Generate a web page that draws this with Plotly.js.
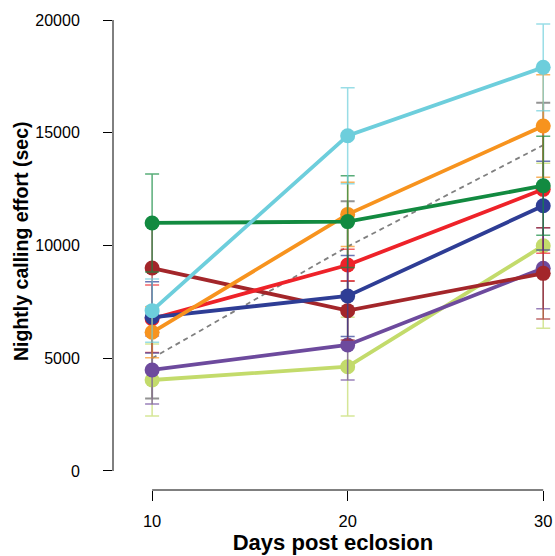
<!DOCTYPE html>
<html><head><meta charset="utf-8">
<script src="https://cdn.plot.ly/plotly-3.0.1.min.js"></script>
<style>html,body{margin:0;padding:0;background:#fff}#chart{width:555px;height:556px}</style>
</head><body><div id="chart"></div>
<script>
const days = [10, 20, 30];
const xTicks = [10, 20, 30];
const yTicks = [0, 5000, 10000, 15000, 20000];

const meanVals = [5000, 9950, 14450];
const meanErr = [1790, 2010, 1880];

const lightgreenVals = [4035, 4625, 9990];
const lightgreenErr = [1600, 2190, 3660];
const purpleVals = [4480, 5590, 8990];
const purpleErr = [1510, 1555, 1800];
const darkredVals = [9000, 7110, 8765];
const darkredErr = [1950, 1300, 2025];
const redVals = [6750, 9135, 12490];
const redErr = [1500, 700, 2835];
const blueVals = [6815, 7760, 11765];
const blueErr = [1580, 1800, 1970];
const orangeVals = [6150, 11380, 15300];
const orangeErr = [1130, 1420, 2275];
const greenVals = [11000, 11060, 12650];
const greenErr = [2170, 2035, 2200];
const cyanVals = [7110, 14870, 17900];
const cyanErr = [1400, 2130, 1920];

const series = [
  {v: lightgreenVals, e: lightgreenErr, c: '#C3DB6B', ec: 'rgba(195,219,107,0.7)'},
  {v: purpleVals, e: purpleErr, c: '#6D4A9D', ec: 'rgba(109,74,157,0.7)'},
  {v: darkredVals, e: darkredErr, c: '#A3262A', ec: 'rgba(163,38,42,0.7)'},
  {v: redVals, e: redErr, c: '#EE2229', ec: 'rgba(238,34,41,0.7)'},
  {v: blueVals, e: blueErr, c: '#2E3D95', ec: 'rgba(46,61,149,0.7)'},
  {v: orangeVals, e: orangeErr, c: '#F7931E', ec: 'rgba(247,147,30,0.7)'},
  {v: greenVals, e: greenErr, c: '#128A40', ec: 'rgba(18,138,64,0.7)'},
  {v: cyanVals, e: cyanErr, c: '#6DCEDC', ec: 'rgba(109,206,220,0.7)'}
];

const traces = [{
  x: days, y: meanVals, type: 'scatter', mode: 'lines',
  line: {color: '#808080', width: 1.8, dash: '5px,4px'},
  error_y: {type: 'data', array: meanErr, visible: true, color: 'rgba(128,128,128,0.85)', thickness: 2, width: 7},
  hoverinfo: 'skip', showlegend: false
}];
series.forEach(s => {
  traces.push({
    x: days, y: s.v, type: 'scatter', mode: 'lines+markers',
    line: {color: s.c, width: 3.8},
    marker: {color: s.c, size: 15},
    error_y: {type: 'data', array: s.e, visible: true, color: s.ec, thickness: 1.5, width: 7},
    showlegend: false
  });
});

const font = 'Liberation Sans, Arial, sans-serif';
const layout = {
  width: 555, height: 556,
  margin: {l: 113, r: 2, t: 12, b: 66},
  paper_bgcolor: '#fff', plot_bgcolor: '#fff',
  font: {family: font, color: '#000', size: 16},
  showlegend: false,
  xaxis: {
    range: [8, 30.5], tickvals: xTicks, ticktext: xTicks.map(String),
    showgrid: false, zeroline: false, showline: false,
    ticks: 'outside', ticklen: 10, tickwidth: 1, tickcolor: '#000',
    ticklabelstandoff: 6,
    tickfont: {family: font, size: 16.5, color: '#000'},
    title: {text: '<b>Days post eclosion</b>', font: {family: font, size: 22, color: '#000'}, standoff: 1}
  },
  yaxis: {
    range: [-843, 20355], tickvals: yTicks, ticktext: yTicks.map(String),
    showgrid: false, zeroline: false, showline: false,
    ticks: 'outside', ticklen: 9, tickwidth: 1, tickcolor: '#000',
    ticklabelstandoff: 20,
    tickfont: {family: font, size: 16, color: '#000'}
  },
  annotations: [{
    text: '<b>Nightly calling effort (sec)</b>', textangle: -90,
    xref: 'paper', yref: 'paper', x: -0.209, y: 0.519, xanchor: 'center', yanchor: 'middle',
    showarrow: false, font: {family: font, size: 19.5, color: '#000'}
  }],
  shapes: [
    {type: 'line', xref: 'paper', x0: 0, x1: 0, yref: 'y', y0: yTicks[0], y1: yTicks[yTicks.length - 1], line: {color: '#000', width: 1}},
    {type: 'line', yref: 'paper', y0: 0, y1: 0, xref: 'x', x0: xTicks[0], x1: xTicks[xTicks.length - 1], line: {color: '#000', width: 1}}
  ]
};

Plotly.newPlot('chart', traces, layout, {displayModeBar: false, staticPlot: true});
</script>
</body></html>
